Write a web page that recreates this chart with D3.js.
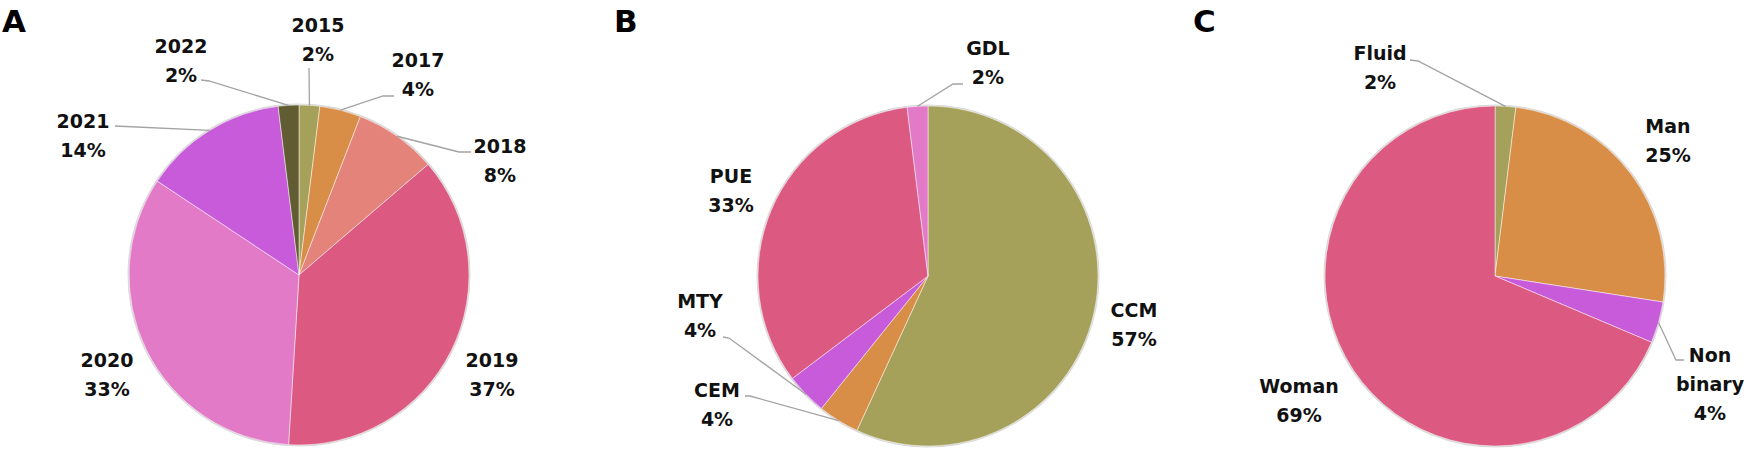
<!DOCTYPE html>
<html>
<head>
<meta charset="utf-8">
<script src="https://cdn.jsdelivr.net/npm/d3@7/dist/d3.min.js"></script>
<style>
  html, body { margin: 0; padding: 0; background: #fff; }
  svg { display: block; }
  .slice-label { font-family: "DejaVu Sans", sans-serif; font-weight: bold; font-size: 19px; fill: #111; }
  .panel-letter { font-family: "DejaVu Sans", sans-serif; font-weight: bold; font-size: 31px; fill: #000; }
  .leader { fill: none; stroke: #a3a3a3; stroke-width: 1.3; }
</style>
</head>
<body>
<svg id="chart" width="1747" height="460"></svg>
<script>
// ── DATA ───────────────────────────────────────────────────────────────────
// Counts out of 51 respondents; labels show rounded percentages.
const yearNames   = ['2015', '2017', '2018', '2019', '2020', '2021', '2022'];
const yearCounts  = [1, 2, 4, 19, 17, 7, 1];

const cityNames   = ['CCM', 'CEM', 'MTY', 'PUE', 'GDL'];
const cityCounts  = [29, 2, 2, 17, 1];

const genderNames  = ['Fluid', 'Man', 'Non binary', 'Woman'];
const genderCounts = [1, 13, 2, 35];

// ── COLOURS ────────────────────────────────────────────────────────────────
const OLIVE  = '#a6a15a';
const ORANGE = '#d98e47';
const SALMON = '#e3837a';
const ROSE   = '#dc5a82';
const PINK   = '#e27ac7';
const PURPLE = '#c75bd9';
const DARK   = '#625c33';

const yearColors   = [OLIVE, ORANGE, SALMON, ROSE, PINK, PURPLE, DARK];
const cityColors   = [OLIVE, ORANGE, PURPLE, ROSE, PINK];
const genderColors = [OLIVE, ORANGE, PURPLE, ROSE];

// ── LAYOUT ─────────────────────────────────────────────────────────────────
// Label anchors are offsets from the pie centre: [centre-x, first baseline].
// Leader lines run from the slice edge to `elbow`, then on to `end`.
const RADIUS   = 170;
const LINE_GAP = 29;

const panels = [
  {
    letter: 'A', letterX: 2, cx: 299, cy: 275,
    names: yearNames, values: yearCounts, colors: yearColors,
    labels: [
      { at: [19, -243],  elbow: [10, -207] },
      { at: [119, -208], elbow: [84, -179],  end: [95, -179] },
      { at: [201, -122], elbow: [160, -123], end: [172, -123] },
      { at: [193, 92] },
      { at: [-192, 92] },
      { at: [-216, -147], elbow: [-184, -149] },
      { at: [-118, -222], elbow: [-90, -194], end: [-98, -195] },
    ],
  },
  {
    letter: 'B', letterX: 614, cx: 928, cy: 276,
    names: cityNames, values: cityCounts, colors: cityColors,
    labels: [
      { at: [206, 41] },
      { at: [-211, 121], elbow: [-178, 120], end: [-183, 120] },
      { at: [-228, 32],  elbow: [-199, 62],  end: [-205, 61] },
      { at: [-197, -93] },
      { at: [60, -221],  elbow: [25, -192],  end: [35, -192] },
    ],
  },
  {
    letter: 'C', letterX: 1193, cx: 1495, cy: 276,
    names: genderNames, values: genderCounts, colors: genderColors,
    labels: [
      { at: [-115, -216], elbow: [-77, -215], end: [-85, -216] },
      { at: [173, -143] },
      { at: [215, 86], elbow: [181, 84], end: [189, 84], wrap: true },
      { at: [-196, 117] },
    ],
  },
];

// ── RENDER ─────────────────────────────────────────────────────────────────
const svg = d3.select('#chart');

const pie = d3.pie().sort(null).value(d => d.value);
const arc = d3.arc().innerRadius(0).outerRadius(RADIUS);
const edgeArc = d3.arc().innerRadius(RADIUS).outerRadius(RADIUS);

function drawPanel(p) {
  const total = d3.sum(p.values);
  const rows = p.names.map((name, i) => ({
    name, value: p.values[i], color: p.colors[i], layout: p.labels[i],
  }));

  svg.append('text')
    .attr('class', 'panel-letter')
    .attr('x', p.letterX)
    .attr('y', 32)
    .text(p.letter);

  const g = svg.append('g').attr('transform', `translate(${p.cx},${p.cy})`);

  // soft grey rim around the whole pie
  g.append('circle')
    .attr('r', RADIUS + 0.5)
    .attr('fill', 'none')
    .attr('stroke', '#d9d9d9')
    .attr('stroke-width', 2);

  const arcs = pie(rows);

  g.selectAll('path.slice')
    .data(arcs)
    .enter().append('path')
      .attr('class', 'slice')
      .attr('d', arc)
      .attr('fill', d => d.data.color)
      .attr('stroke', '#fff')
      .attr('stroke-opacity', 0.6)
      .attr('stroke-width', 0.8);

  // leader lines
  arcs.forEach(d => {
    const L = d.data.layout;
    if (!L.elbow) return;
    const mid = (d.startAngle + d.endAngle) / 2;
    const start = edgeArc.centroid({ startAngle: mid, endAngle: mid });
    const pts = [start, L.elbow];
    if (L.end) pts.push(L.end);
    g.append('path')
      .attr('class', 'leader')
      .attr('d', d3.line()(pts));
  });

  // labels
  arcs.forEach(d => {
    const L = d.data.layout;
    const pct = Math.round(d.data.value / total * 100) + '%';
    const lines = (L.wrap ? d.data.name.split(' ') : [d.data.name]).concat(pct);
    const t = g.append('text')
      .attr('class', 'slice-label')
      .attr('text-anchor', 'middle');
    lines.forEach((s, i) => {
      t.append('tspan')
        .attr('x', L.at[0])
        .attr('y', L.at[1] + i * LINE_GAP)
        .text(s);
    });
  });
}

panels.forEach(drawPanel);
</script>
</body>
</html>
